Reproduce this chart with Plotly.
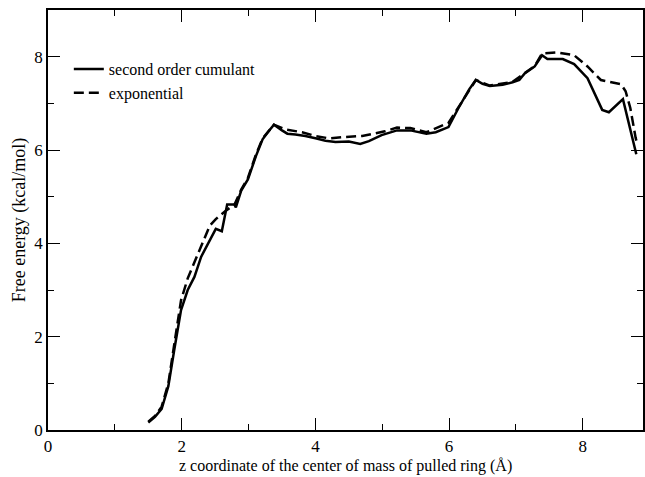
import plotly.graph_objects as go

# second order cumulant (solid)
x_cum = [1.50,1.60,1.70,1.80,1.89,1.99,2.09,2.19,2.29,2.42,2.51,2.60,2.68,2.79,2.81,2.89,2.99,3.11,3.21,3.30,3.38,3.50,3.58,3.70,3.85,4.00,4.15,4.30,4.50,4.67,4.80,4.99,5.22,5.42,5.66,5.80,5.99,6.14,6.30,6.40,6.50,6.61,6.80,6.95,7.05,7.13,7.28,7.39,7.47,7.70,7.87,8.07,8.22,8.29,8.39,8.60,8.80]
y_cum = [0.16,0.28,0.45,0.94,1.73,2.57,3.00,3.28,3.71,4.06,4.31,4.26,4.83,4.83,4.77,5.13,5.37,5.87,6.23,6.40,6.54,6.42,6.35,6.33,6.30,6.25,6.20,6.17,6.18,6.13,6.19,6.32,6.42,6.42,6.35,6.38,6.49,6.90,7.30,7.50,7.42,7.37,7.40,7.45,7.50,7.64,7.79,8.03,7.95,7.95,7.84,7.54,7.08,6.86,6.81,7.09,5.91]

# exponential (dashed)
x_exp = [1.50,1.60,1.70,1.80,1.89,1.99,2.09,2.19,2.27,2.42,2.51,2.66,2.79,2.89,2.99,3.11,3.21,3.38,3.56,3.80,4.00,4.20,4.45,4.70,5.04,5.22,5.42,5.66,5.99,6.14,6.40,6.61,6.95,7.13,7.28,7.39,7.62,7.87,8.07,8.27,8.42,8.57,8.64,8.71,8.79,8.82]
y_exp = [0.18,0.30,0.50,1.00,1.85,2.78,3.25,3.60,3.85,4.38,4.52,4.70,4.83,5.15,5.40,5.90,6.25,6.54,6.44,6.38,6.30,6.25,6.28,6.30,6.40,6.48,6.47,6.38,6.58,6.92,7.50,7.38,7.46,7.65,7.80,8.07,8.09,8.03,7.79,7.50,7.45,7.41,7.26,6.90,6.26,6.10]

x_title = "z coordinate of the center of mass of pulled ring (Å)"
y_title = "Free energy (kcal/mol)"

FONT = "Liberation Serif, Times New Roman, serif"

fig = go.Figure()
fig.add_trace(go.Scatter(x=x_cum, y=y_cum, mode="lines", name="second order cumulant",
                         line=dict(color="black", width=2.5)))
fig.add_trace(go.Scatter(x=x_exp, y=y_exp, mode="lines", name="exponential",
                         line=dict(color="black", width=2.5, dash="10px,5px")))

axis_common = dict(showline=True, linecolor="black", linewidth=1.5, mirror="ticks",
                   ticks="inside", ticklen=12, tickwidth=1.3, tickcolor="black",
                   showgrid=False, zeroline=False,
                   tickfont=dict(family=FONT, size=17, color="black"),
                   minor=dict(ticks="inside", ticklen=6, tickwidth=1.3, tickcolor="black", dtick=1, showgrid=False))

fig.update_xaxes(range=[0, 8.9], dtick=2, tick0=0, **axis_common)
fig.update_yaxes(range=[0, 9], dtick=2, tick0=0,
                 title=dict(text=y_title, font=dict(family=FONT, size=18, color="black"), standoff=4),
                 **axis_common)

fig.add_annotation(text=x_title, xref="paper", yref="paper", x=0.5, y=0,
                   xanchor="center", yanchor="top", yshift=-25, showarrow=False,
                   font=dict(family=FONT, size=16, color="black"))

fig.update_layout(
    width=645, height=477,
    margin=dict(l=48, r=0, t=10, b=47),
    plot_bgcolor="white", paper_bgcolor="white",
    showlegend=True,
    legend=dict(x=0.035, y=0.9, xanchor="left", yanchor="top", bgcolor="rgba(0,0,0,0)",
                font=dict(family=FONT, size=16, color="black"), itemwidth=30,
                tracegroupgap=0),
)

fig.write_html("out.html")
